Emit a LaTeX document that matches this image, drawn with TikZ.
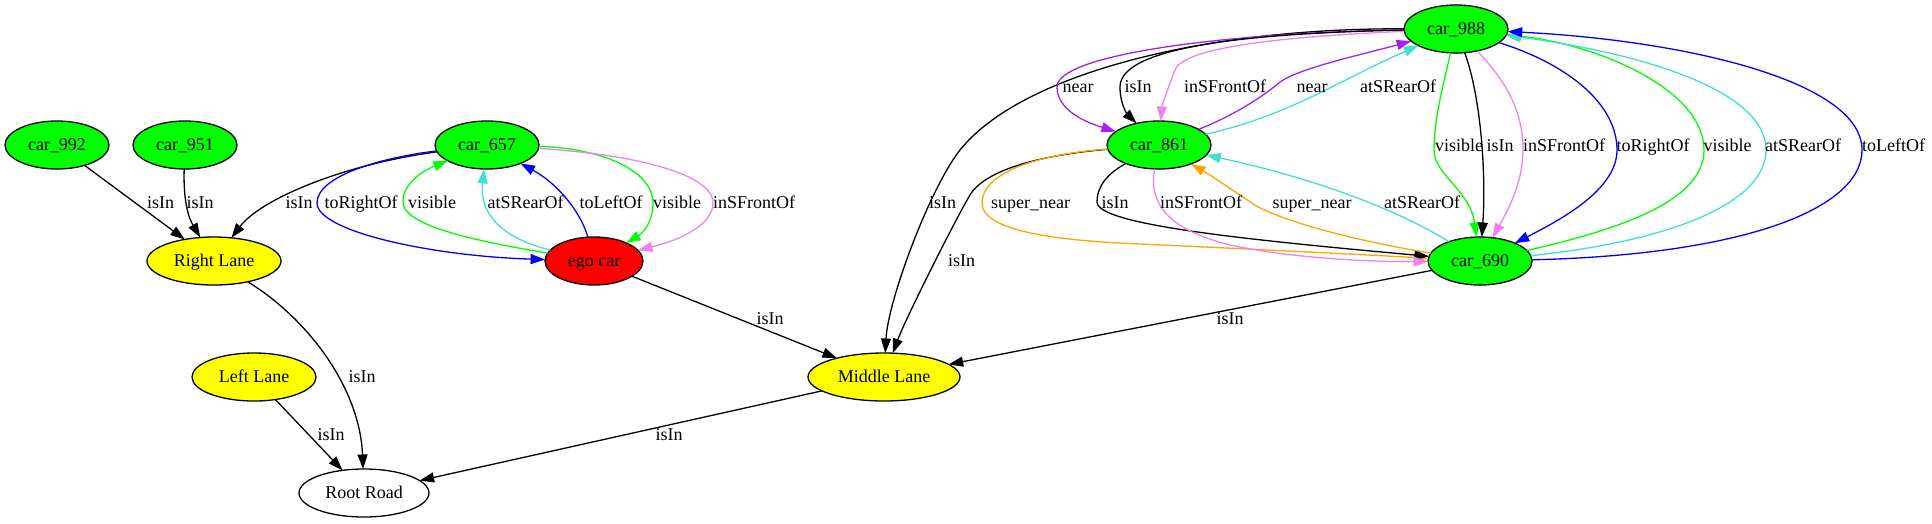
\documentclass[tikz,border=0pt]{standalone}
\usepackage{fontspec}
\setmainfont{Liberation Serif}
\usetikzlibrary{shapes.geometric,arrows.meta}
\definecolor{gvgreen}{HTML}{00FF00}
\definecolor{gvred}{HTML}{FF0000}
\definecolor{gvyellow}{HTML}{FFFF00}
\definecolor{gvblue}{HTML}{0000FF}
\definecolor{gvturq}{HTML}{40E0D0}
\definecolor{gvviolet}{HTML}{EE82EE}
\definecolor{gvpurple}{HTML}{A020F0}
\definecolor{gvorange}{HTML}{FFA500}
\begin{document}
\begin{tikzpicture}[x=1pt,y=-1pt,
  gnode/.style={ellipse, draw=black, line width=1.3pt, minimum height=48pt,
    inner sep=0pt, outer sep=0pt, font=\fontsize{18}{21}\selectfont,
    text height=13pt, text depth=3pt},
  carnode/.style={gnode, fill=gvgreen, minimum width=104pt},
  lanenode/.style={gnode, fill=gvyellow},
  lbl/.style={font=\fontsize{18}{21}\selectfont, inner sep=0pt, anchor=base},
  conn/.style={line width=1.3pt, -{Triangle[length=14.5pt,width=10pt]}}]
\useasboundingbox (0,0) rectangle (1932,523);

% nodes
\node[carnode] (c992) at (57,145) {car\_992};
\node[carnode] (c951) at (185,145) {car\_951};
\node[carnode] (c657) at (487,145) {car\_657};
\node[carnode] (c861) at (1159,145) {car\_861};
\node[carnode] (c988) at (1456,29) {car\_988};
\node[carnode] (c690) at (1480,261) {car\_690};
\node[lanenode, minimum width=134pt] (rl) at (214,261) {Right Lane};
\node[gnode, fill=gvred, minimum width=98pt] (ego) at (594,261) {ego car};
\node[lanenode, minimum width=124pt] (ll) at (254,377) {Left Lane};
\node[lanenode, minimum width=152pt] (ml) at (884,377) {Middle Lane};
\node[gnode, fill=white, minimum width=130pt] (rr) at (364,493) {Root Road};

% edges: left part
\draw[conn] (c992) -- (rl);
\draw[conn] (c951) .. controls (183,205) and (190,220) .. (rl);
\draw[conn] (c657) .. controls (340,165) and (260,200) .. (rl);
\draw[conn,gvblue] (c657) .. controls (385,157) and (317,175) .. (317,203) .. controls (317,231) and (430,256) .. (ego);
\draw[conn,gvgreen] (ego) .. controls (470,240) and (403,225) .. (403,202) .. controls (403,182) and (425,170) .. (c657);
\draw[conn,gvturq] (ego) .. controls (490,235) and (480,205) .. (c657);
\draw[conn,gvblue] (ego) .. controls (582,215) and (560,185) .. (c657);
\draw[conn,gvgreen] (c657) .. controls (600,148) and (653,170) .. (653,203) .. controls (653,225) and (640,235) .. (ego);
\draw[conn,gvviolet] (c657) .. controls (640,155) and (713,175) .. (713,203) .. controls (713,225) and (680,240) .. (ego);
\draw[conn] (ego) -- (ml);
\draw[conn] (rl) .. controls (310,320) and (360,390) .. (rr);
\draw[conn] (ll) -- (rr);
\draw[conn] (ml) -- (rr);

% edges to middle lane
\draw[conn] (c988) .. controls (1200,28) and (1020,75) .. (960,150) .. controls (930,188) and (888,300) .. (ml);
\draw[conn] (c861) .. controls (1040,155) and (985,170) .. (970,195) .. controls (955,220) and (905,320) .. (ml);
\draw[conn] (c690) -- (ml);

% car_988 <-> car_861
\draw[conn,gvpurple] (c988) .. controls (1220,33) and (1057,55) .. (1057,87) .. controls (1057,110) and (1085,122) .. (c861);
\draw[conn] (c988) .. controls (1260,33) and (1120,45) .. (1120,87) .. controls (1120,105) and (1128,115) .. (c861);
\draw[conn,gvviolet] (c988) .. controls (1300,36) and (1185,45) .. (1175,70) .. controls (1168,88) and (1162,105) .. (c861);
\draw[conn,gvpurple] (c861) .. controls (1235,115) and (1265,95) .. (1280,82) .. controls (1300,68) and (1360,55) .. (c988);
\draw[conn,gvturq] (c861) .. controls (1290,115) and (1340,80) .. (c988);

% car_861 <-> car_690
\draw[conn,gvorange] (c861) .. controls (1030,155) and (982,175) .. (982,203) .. controls (982,228) and (1040,240) .. (1140,244) .. controls (1250,249) and (1350,254) .. (c690);
\draw[conn] (c861) .. controls (1105,175) and (1097,188) .. (1097,202) .. controls (1097,225) and (1250,240) .. (c690);
\draw[conn,gvviolet] (c861) .. controls (1148,205) and (1170,230) .. (1230,245) .. controls (1290,258) and (1370,262) .. (c690);
\draw[conn,gvorange] (c690) .. controls (1350,240) and (1280,220) .. (1255,205) .. controls (1235,192) and (1215,178) .. (c861);
\draw[conn,gvturq] (c690) .. controls (1390,205) and (1300,175) .. (c861);

% car_988 <-> car_690
\draw[conn,gvgreen] (c988) .. controls (1442,90) and (1434,120) .. (1434,150) .. controls (1434,175) and (1470,190) .. (c690);
\draw[conn] (c988) .. controls (1482,100) and (1486,180) .. (c690);
\draw[conn,gvviolet] (c988) .. controls (1505,80) and (1523,110) .. (1523,150) .. controls (1523,185) and (1505,215) .. (c690);
\draw[conn,gvblue] (c988) .. controls (1570,65) and (1617,105) .. (1617,150) .. controls (1617,190) and (1560,220) .. (c690);
\draw[conn,gvgreen] (c690) .. controls (1640,225) and (1704,195) .. (1704,150) .. controls (1704,90) and (1600,45) .. (c988);
\draw[conn,gvturq] (c690) .. controls (1680,240) and (1766,200) .. (1766,150) .. controls (1766,85) and (1620,50) .. (c988);
\draw[conn,gvblue] (c690) .. controls (1740,255) and (1862,210) .. (1862,150) .. controls (1862,80) and (1680,40) .. (c988);

% labels
\node[lbl] (l1) at (160.5,208) {isIn};
\node[lbl] (l2) at (200,208) {isIn};
\node[lbl] (l3) at (299,208) {isIn};
\node[lbl] (l4) at (361,208) {toRightOf};
\node[lbl] (l5) at (432,208) {visible};
\node[lbl] (l6) at (525.5,208) {atSRearOf};
\node[lbl] (l7) at (611,208) {toLeftOf};
\node[lbl] (l8) at (677,208) {visible};
\node[lbl] (l9) at (754,208) {inSFrontOf};
\node[lbl] (l10) at (770,324) {isIn};
\node[lbl] (l11) at (942.5,208) {isIn};
\node[lbl] (l12) at (961.5,266) {isIn};
\node[lbl] (l13) at (1230,324) {isIn};
\node[lbl] (l14) at (669,440) {isIn};
\node[lbl] (l15) at (362,382) {isIn};
\node[lbl] (l16) at (331,440) {isIn};
\node[lbl] (l17) at (1078,92) {near};
\node[lbl] (l18) at (1138,92) {isIn};
\node[lbl] (l19) at (1225,92) {inSFrontOf};
\node[lbl] (l20) at (1312,92) {near};
\node[lbl] (l21) at (1398,92) {atSRearOf};
\node[lbl] (l22) at (1030.5,208) {super\_near};
\node[lbl] (l23) at (1115,208) {isIn};
\node[lbl] (l24) at (1201,208) {inSFrontOf};
\node[lbl] (l25) at (1312,208) {super\_near};
\node[lbl] (l26) at (1422,208) {atSRearOf};
\node[lbl] (l27) at (1459,151) {visible};
\node[lbl] (l28) at (1500,151) {isIn};
\node[lbl] (l29) at (1564,151) {inSFrontOf};
\node[lbl] (l30) at (1653,151) {toRightOf};
\node[lbl] (l31) at (1727.5,151) {visible};
\node[lbl] (l32) at (1803,151) {atSRearOf};
\node[lbl] (l33) at (1893.5,151) {toLeftOf};
\end{tikzpicture}
\end{document}
